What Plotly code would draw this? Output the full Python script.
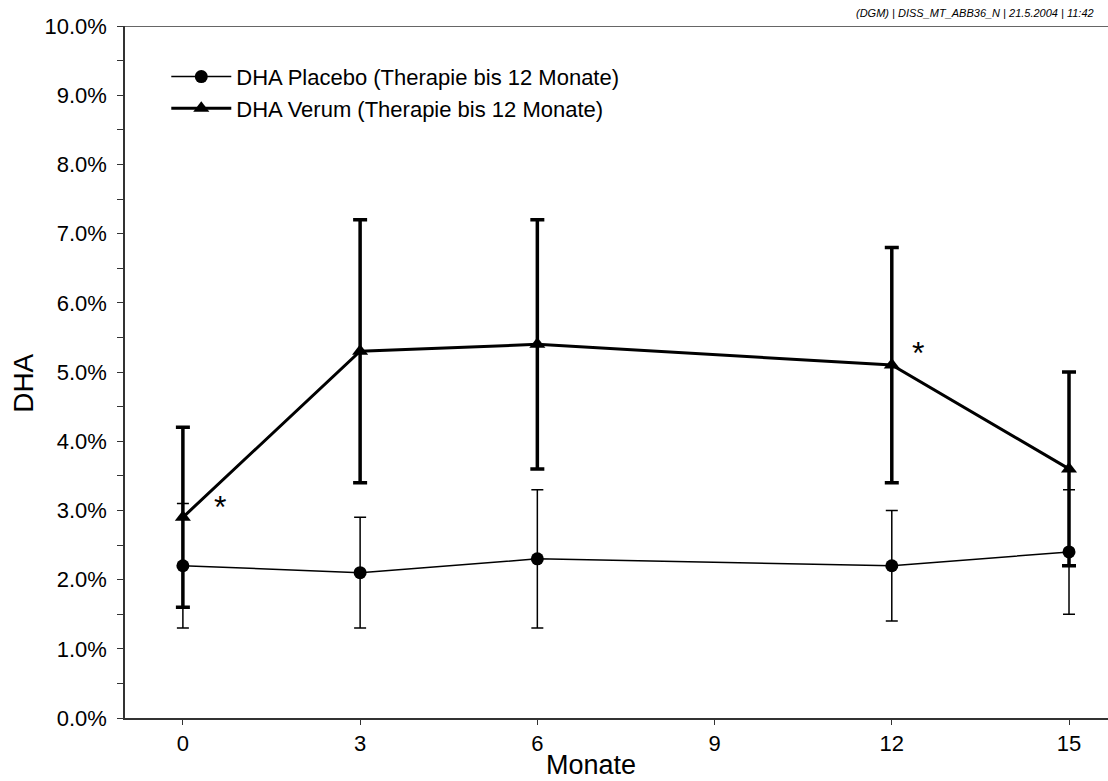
import plotly.graph_objects as go

months = [0, 3, 6, 12, 15]
placebo_mean = [2.2, 2.1, 2.3, 2.2, 2.4]
placebo_err = [0.9, 0.8, 1.0, 0.8, 0.9]
verum_mean = [2.9, 5.3, 5.4, 5.1, 3.6]
verum_err = [1.3, 1.9, 1.8, 1.7, 1.4]
star_x = [0.63, 12.45]
star_y = [3.05, 5.27]
y_ticks = [0, 1, 2, 3, 4, 5, 6, 7, 8, 9, 10]
x_ticks = [0, 3, 6, 9, 12, 15]

FONT = "Liberation Sans, Arial, sans-serif"

fig = go.Figure()
fig.add_trace(go.Scatter(
    x=months, y=placebo_mean, mode="lines+markers",
    name="DHA Placebo (Therapie bis 12 Monate)",
    line=dict(color="black", width=1.5),
    marker=dict(symbol="circle", size=13, color="black"),
    error_y=dict(type="data", array=placebo_err, visible=True, color="black", thickness=1.5, width=6),
))
fig.add_trace(go.Scatter(
    x=months, y=verum_mean, mode="lines+markers",
    name="DHA Verum (Therapie bis 12 Monate)",
    line=dict(color="black", width=3),
    marker=dict(symbol="triangle-up", size=14, color="black"),
    error_y=dict(type="data", array=verum_err, visible=True, color="black", thickness=3.5, width=7),
))

for sx, sy in zip(star_x, star_y):
    fig.add_annotation(x=sx, y=sy, text="*", showarrow=False,
                       font=dict(family=FONT, size=32, color="black"))

fig.add_shape(type="line", xref="paper", yref="y", x0=0, x1=1, y0=10, y1=10,
              line=dict(color="#333333", width=1.5))

fig.add_annotation(xref="paper", yref="paper", x=0.988, y=1.0, yshift=13,
                   xanchor="right", yanchor="middle", showarrow=False,
                   text="<i>(DGM) | DISS_MT_ABB36_N | 21.5.2004 | 11:42</i>",
                   font=dict(family=FONT, size=11, color="black"))

# axis titles
fig.add_annotation(xref="paper", yref="paper", x=0.474, y=0, yshift=-47,
                   xanchor="center", yanchor="middle", showarrow=False,
                   text="Monate", font=dict(family=FONT, size=27, color="black"))
fig.add_annotation(xref="paper", yref="paper", x=-0.104, y=0.484,
                   xanchor="center", yanchor="middle", showarrow=False, textangle=-90,
                   text="DHA", font=dict(family=FONT, size=28, color="black"))

fig.update_layout(
    width=1108, height=781,
    margin=dict(l=125, r=0, t=26, b=63),
    paper_bgcolor="white", plot_bgcolor="white",
    font=dict(family=FONT, size=22, color="black"),
    showlegend=True,
    legend=dict(x=0.042, y=0.957, xanchor="left", yanchor="top",
                bgcolor="rgba(0,0,0,0)", font=dict(size=22), tracegroupgap=0,
                itemwidth=60),
    xaxis=dict(range=[-0.98, 15.66], tickvals=x_ticks, ticktext=[str(v) for v in x_ticks],
               showgrid=False, zeroline=False, showline=True, linecolor="#333333", linewidth=1.5,
               ticks="outside", ticklen=5, tickcolor="#333333", automargin=False),
    yaxis=dict(range=[0, 10], tickvals=y_ticks, ticktext=[f"{v:.1f}%" for v in y_ticks],
               showgrid=False, zeroline=False, showline=True, linecolor="#333333", linewidth=1.5,
               ticks="outside", ticklen=6, tickcolor="#333333", automargin=False,
               minor=dict(tickvals=[v + 0.5 for v in y_ticks[:-1]], ticks="outside", ticklen=6, tickcolor="#333333"),
               ticklabelstandoff=6),
)

fig.write_html("out.html")
